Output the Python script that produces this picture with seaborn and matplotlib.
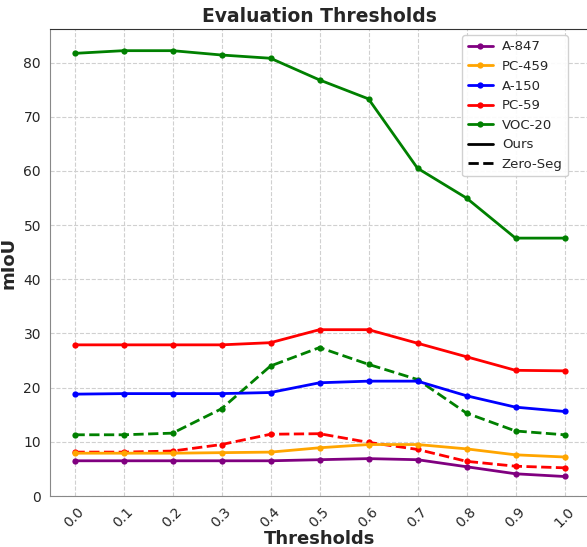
import numpy as np
import pandas as pd
import matplotlib
matplotlib.use("Agg")
import matplotlib.pyplot as plt
import seaborn as sns
from matplotlib.lines import Line2D

thresholds = [0.0, 0.1, 0.2, 0.3, 0.4, 0.5, 0.6, 0.7, 0.8, 0.9, 1.0]

ours_a847 = [6.5, 6.5, 6.5, 6.5, 6.5, 6.7, 6.9, 6.7, 5.4, 4.1, 3.6]
ours_pc459 = [7.9, 7.9, 7.9, 8.0, 8.1, 8.9, 9.5, 9.5, 8.7, 7.6, 7.2]
ours_a150 = [18.8, 18.9, 18.9, 18.9, 19.1, 20.9, 21.2, 21.2, 18.5, 16.4, 15.6]
ours_pc59 = [27.9, 27.9, 27.9, 27.9, 28.3, 30.7, 30.7, 28.2, 25.7, 23.2, 23.1]
ours_voc20 = [81.7, 82.2, 82.2, 81.4, 80.8, 76.8, 73.3, 60.5, 55.0, 47.6, 47.6]

zs_pc59 = [8.1, 8.1, 8.3, 9.5, 11.4, 11.5, 9.9, 8.6, 6.4, 5.5, 5.2]
zs_voc20 = [11.3, 11.3, 11.6, 16.1, 24.0, 27.4, 24.3, 21.5, 15.3, 12.0, 11.3]

datasets = ["A-847", "PC-459", "A-150", "PC-59", "VOC-20"]
colors = {"A-847": "purple", "PC-459": "orange", "A-150": "blue",
          "PC-59": "red", "VOC-20": "green"}

ours = {"A-847": ours_a847, "PC-459": ours_pc459, "A-150": ours_a150,
        "PC-59": ours_pc59, "VOC-20": ours_voc20}
zeroseg = {"PC-59": zs_pc59, "VOC-20": zs_voc20}

sns.set_style("white")

fig = plt.figure(figsize=(5.87, 5.47), dpi=100)
ax = fig.add_axes([50 / 587, 51 / 547, 539 / 587, 467 / 547])

# zero-seg (dashed) first so ours draws on top
for name, vals in zeroseg.items():
    df = pd.DataFrame({"t": thresholds, "miou": vals})
    sns.lineplot(data=df, x="t", y="miou", ax=ax, color=colors[name],
                 linestyle="--", linewidth=2, marker="o", markersize=4.5,
                 markeredgewidth=0)
for name in datasets:
    df = pd.DataFrame({"t": thresholds, "miou": ours[name]})
    sns.lineplot(data=df, x="t", y="miou", ax=ax, color=colors[name],
                 linewidth=2, marker="o", markersize=4.5, markeredgewidth=0)

ax.set_xticks(thresholds)
ax.set_xticklabels([f"{t:.1f}" for t in thresholds], rotation=45, fontsize=10)
ax.set_yticks(np.arange(0, 90, 10))
ax.tick_params(axis="y", labelsize=10)
ax.tick_params(axis="both", length=3, color="#444444")
ax.set_xlim(-0.05, 1.05)
ax.set_ylim(0, 86.2)
ax.grid(True, linestyle="--", color="#d0d0d0", linewidth=0.8)

for side in ["left", "bottom"]:
    ax.spines[side].set_color("#888888")
for side in ["top", "right"]:
    ax.spines[side].set_color("#333333")

ax.set_xlabel("Thresholds", fontsize=13, fontweight="bold", labelpad=0)
ax.set_ylabel("mIoU", fontsize=13, fontweight="bold")
ax.set_title("Evaluation Thresholds", fontsize=13.5, fontweight="bold", pad=5)

handles = [Line2D([0], [0], color=colors[n], lw=2, marker="o", markersize=4.5,
                  markeredgewidth=0, label=n) for n in datasets]
handles.append(Line2D([0], [0], color="black", lw=2, label="Ours"))
handles.append(Line2D([0], [0], color="black", lw=2, linestyle="--", label="Zero-Seg"))
ax.legend(handles=handles, loc="upper right", bbox_to_anchor=(0.961, 0.987),
          borderaxespad=0, fontsize=9.5, handlelength=1.9, handletextpad=0.7,
          frameon=True, framealpha=0.9, labelspacing=0.5)

fig.savefig("out.png", dpi=100)
